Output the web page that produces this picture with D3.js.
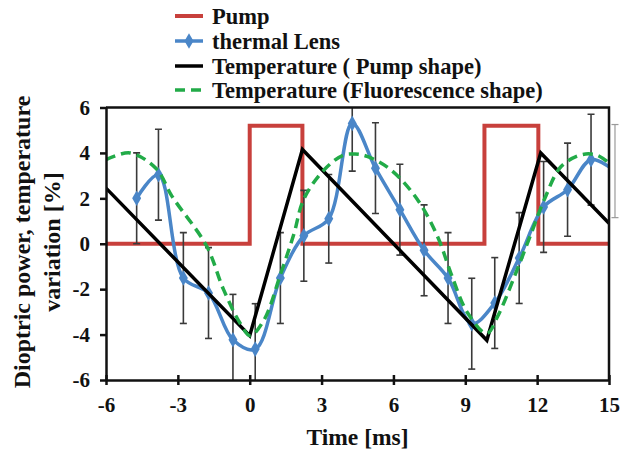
<!DOCTYPE html>
<html>
<head>
<meta charset="utf-8">
<script src="https://cdn.jsdelivr.net/npm/d3@7/dist/d3.min.js"></script>
<style>
  html, body { margin: 0; padding: 0; background: #fff; }
  svg { display: block; }
  text { font-family: "Liberation Serif", "Times New Roman", serif; font-weight: bold; fill: #111; }
</style>
</head>
<body>
<svg id="chart" width="620" height="455"></svg>
<script>
// Axis ticks
const timeTicks = [-6, -3, 0, 3, 6, 9, 12, 15];
const valueTicks = [-6, -4, -2, 0, 2, 4, 6];

// Pump pulse (square wave, %)
const pumpTime  = [-6, 0, 0, 2.2, 2.2, 9.8, 9.8, 12.05, 12.05, 15];
const pumpValue = [0, 0, 5.2, 5.2, 0, 0, 5.2, 5.2, 0, 0];

// Thermal lens measurements with error bars
const lensTime  = [-4.72, -3.81, -2.77, -1.72, -0.70, 0.23, 1.28, 2.26, 3.30, 4.28, 5.25,
                   6.27, 7.28, 8.28, 9.27, 10.23, 11.25, 12.27, 13.27, 14.25, 15.25];
const lensValue = [2.0, 3.04, -1.51, -2.17, -4.23, -4.64, -1.51, 0.35, 1.1, 5.3, 3.33,
                   1.5, -0.29, -1.51, -3.52, -2.61, -0.63, 1.62, 2.38, 3.7, 3.2];
const lensError = [2.0, 2.0, 2.0, 2.0, 2.0, 2.0, 2.0, 2.0, 1.95, 2.1, 2.0,
                   2.0, 2.0, 2.0, 2.0, 2.0, 2.0, 2.0, 2.05, 2.0, 2.05];

// Temperature following the pump shape
const pumpShapeTime  = [-6, 0, 2.2, 9.9, 12.15, 15];
const pumpShapeValue = [2.45, -4.05, 4.15, -4.25, 4.0, 0.9];

// Temperature following the fluorescence shape
const fluoTime  = [-6, -5.0, -3.9, -3.25, -1.8, -1.1, -0.4, 0.02, 0.6, 1.3, 1.85, 2.25, 3.1, 3.9,
                   4.4, 4.9, 5.9, 7.0, 7.85, 8.4, 9.1, 9.9, 10.35, 11.05, 11.75, 12.3, 13.0, 13.85,
                   14.5, 15.0];
const fluoValue = [3.7, 4.0, 3.3, 2.1, -0.1, -2.0, -3.5, -4.05, -3.35, -1.3, 0.45, 1.95, 3.25, 3.9,
                   3.95, 3.85, 3.25, 1.95, 0.3, -1.3, -3.05, -3.95, -3.2, -1.45, 0.45, 1.95, 3.4, 3.92,
                   3.9, 3.55];

// Legend entries
const legendLabels = ["Pump", "thermal Lens", "Temperature ( Pump shape)", "Temperature (Fluorescence shape)"];

const colors = { pump: "#c8403c", lens: "#4a86c8", pumpShape: "#000000", fluo: "#22ab48" };

const svg = d3.select("#chart");
const plotLeft = 106, plotRight = 609, plotTop = 107.5, plotBottom = 380;

const x = d3.scaleLinear().domain([-6, 15]).range([plotLeft, plotRight]);
const y = d3.scaleLinear().domain([-6, 6]).range([plotBottom, plotTop]);

svg.append("defs").append("clipPath").attr("id", "plotClip")
  .append("rect").attr("x", plotLeft).attr("y", plotTop - 1)
  .attr("width", plotRight - plotLeft).attr("height", plotBottom - plotTop + 2);

const plot = svg.append("g").attr("clip-path", "url(#plotClip)");

const zip = (ts, vs) => ts.map((t, i) => [t, vs[i]]);
const straight = d3.line().x(d => x(d[0])).y(d => y(d[1]));
const smooth = d3.line().x(d => x(d[0])).y(d => y(d[1])).curve(d3.curveCatmullRom.alpha(0.5));

// Pump
plot.append("path")
  .datum(zip(pumpTime, pumpValue))
  .attr("fill", "none").attr("stroke", colors.pump).attr("stroke-width", 4)
  .attr("d", straight);

// Error bars of the thermal lens
const lensData = lensTime.map((t, i) => ({ t, v: lensValue[i], e: lensError[i] }));
const errOutside = svg.append("g");
lensData.forEach(d => {
  const inside = d.t <= 15;
  const hi = Math.min(d.v + d.e, 6), lo = Math.max(d.v - d.e, -6);
  const col = inside ? "#3a3a3a" : "#9a9a9a";
  const w = inside ? 1.6 : 1.2;
  const g = inside ? plot : errOutside;
  const cx = x(d.t);
  g.append("line").attr("x1", cx).attr("x2", cx).attr("y1", y(hi)).attr("y2", y(lo))
    .attr("stroke", col).attr("stroke-width", w);
  if (d.v + d.e <= 6) g.append("line").attr("x1", cx - 3.5).attr("x2", cx + 3.5)
    .attr("y1", y(hi)).attr("y2", y(hi)).attr("stroke", col).attr("stroke-width", w);
  if (d.v - d.e >= -6) g.append("line").attr("x1", cx - 3.5).attr("x2", cx + 3.5)
    .attr("y1", y(lo)).attr("y2", y(lo)).attr("stroke", col).attr("stroke-width", w);
});

// Thermal lens smoothed line and diamond markers
plot.append("path")
  .datum(zip(lensTime, lensValue))
  .attr("fill", "none").attr("stroke", colors.lens).attr("stroke-width", 3.5)
  .attr("d", smooth);

const diamond = d3.symbol().type(d3.symbolDiamond).size(70);
plot.selectAll("path.marker")
  .data(lensData.filter(d => d.t <= 15))
  .join("path").attr("class", "marker")
  .attr("transform", d => `translate(${x(d.t)},${y(d.v)})`)
  .attr("d", diamond).attr("fill", colors.lens);

// Temperature (pump shape)
plot.append("path")
  .datum(zip(pumpShapeTime, pumpShapeValue))
  .attr("fill", "none").attr("stroke", colors.pumpShape).attr("stroke-width", 3.5)
  .attr("d", straight);

// Temperature (fluorescence shape)
plot.append("path")
  .datum(zip(fluoTime, fluoValue))
  .attr("fill", "none").attr("stroke", colors.fluo).attr("stroke-width", 3.5)
  .attr("stroke-dasharray", "10,6")
  .attr("d", smooth);

// Frame (top and right)
svg.append("path")
  .attr("d", `M${plotLeft},${plotTop}H${plotRight}V${plotBottom}`)
  .attr("fill", "none").attr("stroke", "#111").attr("stroke-width", 2.5);

// Plain hyphen for negative tick labels
const fmt = d => String(d);

// X axis
const xAxis = svg.append("g").attr("transform", `translate(0,${plotBottom})`)
  .call(d3.axisBottom(x).tickValues(timeTicks).tickFormat(fmt).tickSize(5).tickPadding(12).tickSizeOuter(0));
xAxis.select(".domain").attr("stroke", "#111").attr("stroke-width", 2.5);
xAxis.selectAll(".tick line").attr("y1", -5).attr("y2", 5).attr("stroke", "#111").attr("stroke-width", 2.5);
xAxis.selectAll(".tick text").attr("font-size", 21).attr("fill", "#111");

// Y axis
const yAxis = svg.append("g").attr("transform", `translate(${plotLeft},0)`)
  .call(d3.axisLeft(y).tickValues(valueTicks).tickFormat(fmt).tickSize(6).tickPadding(10).tickSizeOuter(0));
yAxis.select(".domain").attr("stroke", "#111").attr("stroke-width", 2.5);
yAxis.selectAll(".tick line").attr("x2", -6).attr("x1", 1).attr("stroke", "#111").attr("stroke-width", 2.5);
yAxis.selectAll(".tick text").attr("font-size", 21).attr("fill", "#111");
svg.selectAll(".tick text").style("font-family", "'Liberation Serif', serif").style("font-weight", "bold");

// Axis titles
svg.append("text").attr("x", (plotLeft + plotRight) / 2).attr("y", 445)
  .attr("text-anchor", "middle").attr("font-size", 23.5).text("Time [ms]");

const yTitle = svg.append("text")
  .attr("transform", "translate(0,242) rotate(-90)")
  .attr("text-anchor", "middle").attr("font-size", 24);
yTitle.append("tspan").attr("x", 0).attr("y", 30).text("Dioptric power, temperature");
yTitle.append("tspan").attr("x", 0).attr("y", 60).text("variation [%]");

// Legend
const legend = svg.append("g");
const legendY = [16, 41, 66, 90];
const legendKeys = ["pump", "lens", "pumpShape", "fluo"];
legendKeys.forEach((k, i) => {
  const ly = legendY[i];
  const l = legend.append("line").attr("x1", 175).attr("x2", 203).attr("y1", ly).attr("y2", ly)
    .attr("stroke", colors[k]).attr("stroke-width", k === "pump" ? 4 : 3.5);
  if (k === "fluo") l.attr("stroke-dasharray", "10,6");
  if (k === "lens") legend.append("path").attr("transform", `translate(189,${ly})`)
    .attr("d", diamond).attr("fill", colors.lens);
  legend.append("text").attr("x", 212).attr("y", ly).attr("dy", "0.35em")
    .attr("font-size", 22.5).text(legendLabels[i]);
});
</script>
</body>
</html>
